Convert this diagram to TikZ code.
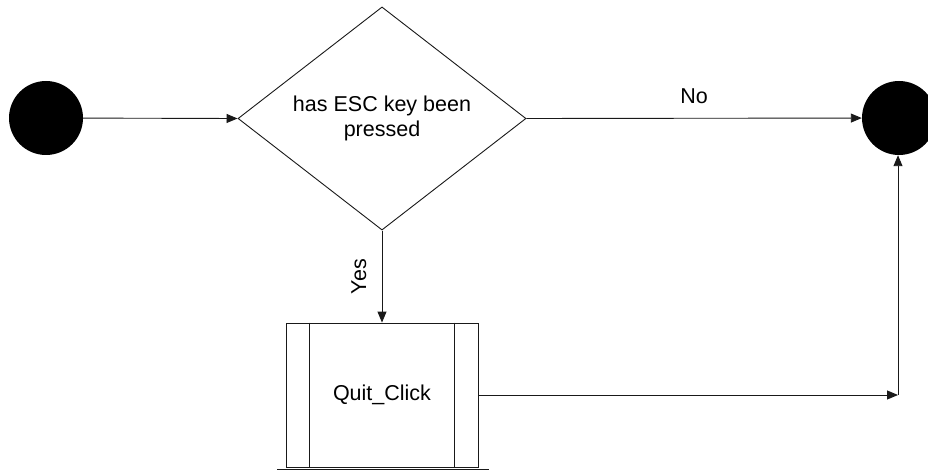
\documentclass[tikz,border=0pt]{standalone}
\usepackage{fontspec}
\setmainfont{Liberation Sans}
\usetikzlibrary{shapes.geometric,arrows.meta}
\tikzset{
  x=1pt,y=-1pt,
  line/.style={draw=black!90, line width=0.9pt},
  arr/.style={line, -{Triangle[length=11pt,width=9pt]}},
  dot/.style={circle, fill=black, minimum size=74pt, inner sep=0pt},
  decision/.style={diamond, line, minimum width=288pt, minimum height=217pt, inner sep=0pt, align=center},
  proc/.style={rectangle, line, minimum width=192pt, minimum height=144pt, inner sep=0pt},
  lbl/.style={font=\fontsize{21.5}{25}\selectfont}
}
\begin{document}
\begin{tikzpicture}
\useasboundingbox (0,0) rectangle (928,470);
\fill[white] (0,0) rectangle (928,470);
\node[dot] (start) at (46,118) {};
\node[dot] (end) at (899,118) {};
\node[decision, lbl] (dec) at (382,118.5) {has ESC key been\\pressed};
\node[proc, lbl] (quit) at (382,395) {Quit\_Click};
\draw[line] ([xshift=24pt]quit.north west) -- ([xshift=24pt]quit.south west);
\draw[line] ([xshift=-24pt]quit.north east) -- ([xshift=-24pt]quit.south east);
\coordinate (lb) at (277,469);
\coordinate (rb) at (489,469);
\draw[line] (lb) -- (rb);
\coordinate (corner) at (898,395);
\draw[arr] (start) -- (dec.west);
\draw[arr] (dec.east) -- node[lbl, above=11pt, pos=0.5] {No} (end);
\draw[arr] (dec.south) -- node[lbl, rotate=90, anchor=south, yshift=12pt, pos=0.5] {Yes} (quit.north);
\draw[arr] (quit.east) -- (corner);
\draw[arr] (corner) -- (corner |- end.south);
\end{tikzpicture}
\end{document}
